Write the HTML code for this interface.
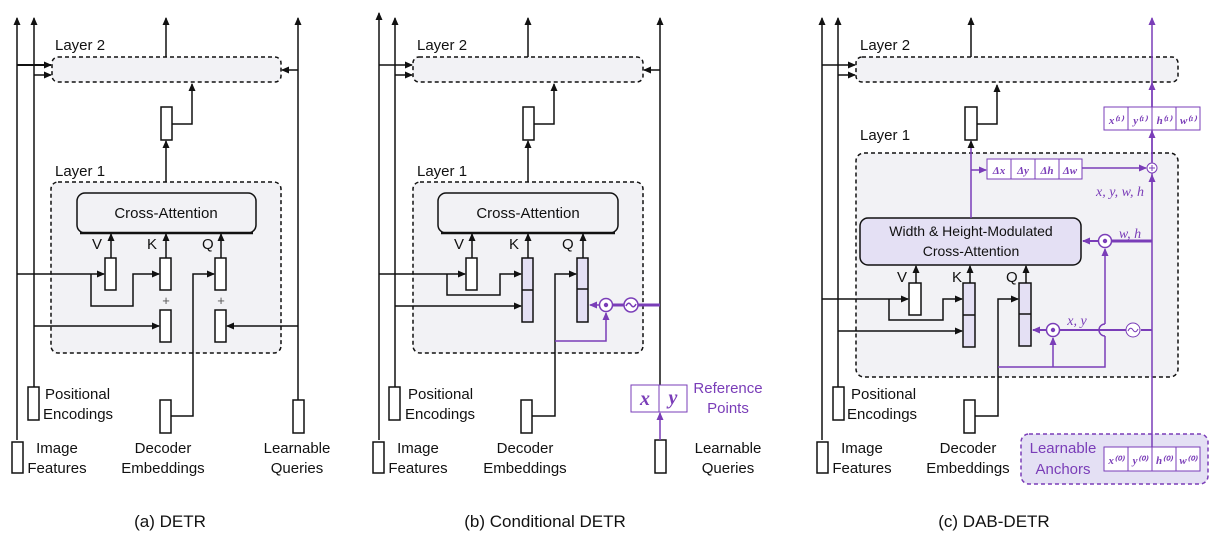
<!DOCTYPE html>
<html><head><meta charset="utf-8"><style>
html,body{margin:0;padding:0;background:#fff}
svg{display:block}
text{font-family:"Liberation Sans",sans-serif;font-size:15px;fill:#111}
.c{text-anchor:middle}
.p{fill:#7a3db8}
.m{font-family:"Liberation Serif",serif;font-style:italic;font-weight:bold;fill:#7a3db8}
.mi{font-family:"Liberation Serif",serif;font-style:italic;fill:#7a3db8}
</style></head><body>
<svg width="1226" height="534" viewBox="0 0 1226 534" xmlns="http://www.w3.org/2000/svg">
<defs>
<marker id="a" markerWidth="8" markerHeight="8" refX="7" refY="4" orient="auto" markerUnits="userSpaceOnUse"><path d="M0,0.5 L8,4 L0,7.5z" fill="#111"/></marker>
<marker id="ap" markerWidth="8" markerHeight="8" refX="7" refY="4" orient="auto" markerUnits="userSpaceOnUse"><path d="M0,0.5 L8,4 L0,7.5z" fill="#7a3db8"/></marker>
</defs>
<g fill="none" stroke="#111" stroke-width="1.5">
<!-- ===== Panel A ===== -->
<rect x="52" y="57" width="229" height="25" rx="6" fill="#f2f2f5" stroke-dasharray="4,3"/>
<rect x="51" y="182" width="230" height="171" rx="7" fill="#f2f2f5" stroke-dasharray="4,3"/>
<rect x="77" y="193" width="179" height="40" rx="8" fill="#f2f2f5"/>
<line x1="80" y1="233" x2="253" y2="233" stroke-width="2.5"/>
<line x1="17" y1="440" x2="17" y2="18" marker-end="url(#a)"/>
<line x1="34" y1="387" x2="34" y2="18" marker-end="url(#a)"/>
<line x1="17" y1="65" x2="51" y2="65" stroke-width="2" marker-end="url(#a)"/>
<line x1="34" y1="75" x2="51" y2="75" marker-end="url(#a)"/>
<line x1="166" y1="57" x2="166" y2="18" marker-end="url(#a)"/>
<line x1="298" y1="400" x2="298" y2="18" marker-end="url(#a)"/>
<line x1="298" y1="70" x2="282" y2="70" marker-end="url(#a)"/>
<rect x="161" y="107" width="11" height="33" fill="#fff"/>
<polyline points="172,124 192,124 192,84" marker-end="url(#a)"/>
<line x1="166" y1="182" x2="166" y2="141" marker-end="url(#a)"/>
<line x1="111" y1="258" x2="111" y2="234" marker-end="url(#a)"/>
<line x1="166" y1="258" x2="166" y2="234" marker-end="url(#a)"/>
<line x1="221" y1="258" x2="221" y2="234" marker-end="url(#a)"/>
<rect x="105" y="258" width="11" height="32" fill="#fff"/>
<rect x="160" y="258" width="11" height="32" fill="#fff"/>
<rect x="215" y="258" width="11" height="32" fill="#fff"/>
<rect x="160" y="310" width="11" height="32" fill="#fff"/>
<rect x="215" y="310" width="11" height="32" fill="#fff"/>
<line x1="17" y1="274" x2="104" y2="274" marker-end="url(#a)"/>
<polyline points="91,274 91,306 133,306 133,274 159,274" marker-end="url(#a)"/>
<line x1="34" y1="326" x2="159" y2="326" marker-end="url(#a)"/>
<line x1="298" y1="326" x2="227" y2="326" marker-end="url(#a)"/>
<polyline points="171,416 193,416 193,274 214,274" marker-end="url(#a)"/>
<rect x="12" y="442" width="11" height="31" fill="#fff"/>
<rect x="28" y="387" width="11" height="33" fill="#fff"/>
<rect x="160" y="400" width="11" height="33" fill="#fff"/>
<rect x="293" y="400" width="11" height="33" fill="#fff"/>

<!-- ===== Panel B ===== -->
<rect x="413" y="57" width="230" height="25" rx="6" fill="#f2f2f5" stroke-dasharray="4,3"/>
<rect x="413" y="182" width="230" height="171" rx="7" fill="#f2f2f5" stroke-dasharray="4,3"/>
<rect x="438" y="193" width="180" height="40" rx="8" fill="#f2f2f5"/>
<line x1="441" y1="233" x2="615" y2="233" stroke-width="2.5"/>
<line x1="379" y1="440" x2="379" y2="13" marker-end="url(#a)"/>
<line x1="395" y1="387" x2="395" y2="18" marker-end="url(#a)"/>
<line x1="379" y1="65" x2="412" y2="65" marker-end="url(#a)"/>
<line x1="395" y1="75" x2="412" y2="75" marker-end="url(#a)"/>
<line x1="528" y1="57" x2="528" y2="18" marker-end="url(#a)"/>
<line x1="660" y1="385" x2="660" y2="18" marker-end="url(#a)"/>
<line x1="660" y1="70" x2="644" y2="70" marker-end="url(#a)"/>
<rect x="523" y="107" width="11" height="33" fill="#fff"/>
<polyline points="534,124 554,124 554,84" marker-end="url(#a)"/>
<line x1="528" y1="182" x2="528" y2="141" marker-end="url(#a)"/>
<line x1="472" y1="258" x2="472" y2="234" marker-end="url(#a)"/>
<line x1="528" y1="258" x2="528" y2="234" marker-end="url(#a)"/>
<line x1="583" y1="258" x2="583" y2="234" marker-end="url(#a)"/>
<rect x="466" y="258" width="11" height="32" fill="#fff"/>
<rect x="522" y="258" width="11" height="64" fill="#e4e0f4"/>
<line x1="522" y1="290" x2="533" y2="290"/>
<rect x="577" y="258" width="11" height="64" fill="#e4e0f4"/>
<line x1="577" y1="289" x2="588" y2="289"/>
<line x1="379" y1="274" x2="465" y2="274" marker-end="url(#a)"/>
<polyline points="447,274 447,295 500,295 500,274 521,274" marker-end="url(#a)"/>
<line x1="395" y1="306" x2="521" y2="306" marker-end="url(#a)"/>
<polyline points="532,416 555,416 555,274 576,274" marker-end="url(#a)"/>
<rect x="373" y="442" width="11" height="31" fill="#fff"/>
<rect x="389" y="387" width="11" height="33" fill="#fff"/>
<rect x="521" y="400" width="11" height="33" fill="#fff"/>
<rect x="655" y="440" width="11" height="33" fill="#fff"/>

<!-- ===== Panel C ===== -->
<rect x="856" y="57" width="322" height="25" rx="6" fill="#f2f2f5" stroke-dasharray="4,3"/>
<rect x="856" y="153" width="322" height="224" rx="8" fill="#f2f2f5" stroke-dasharray="4,3"/>
<line x1="822" y1="440" x2="822" y2="18" marker-end="url(#a)"/>
<line x1="838" y1="387" x2="838" y2="18" marker-end="url(#a)"/>
<line x1="822" y1="65" x2="855" y2="65" marker-end="url(#a)"/>
<line x1="838" y1="75" x2="855" y2="75" marker-end="url(#a)"/>
<line x1="971" y1="57" x2="971" y2="18" marker-end="url(#a)"/>
<rect x="965" y="107" width="12" height="33" fill="#fff"/>
<polyline points="977,124 997,124 997,85" marker-end="url(#a)"/>
<rect x="860" y="218" width="221" height="47" rx="8" fill="#e4e0f4"/>
<line x1="916" y1="283" x2="916" y2="266" marker-end="url(#a)"/>
<line x1="970" y1="283" x2="970" y2="266" marker-end="url(#a)"/>
<line x1="1026" y1="283" x2="1026" y2="266" marker-end="url(#a)"/>
<rect x="909" y="283" width="12" height="32" fill="#fff"/>
<rect x="963" y="283" width="12" height="64" fill="#e4e0f4"/>
<line x1="963" y1="315" x2="975" y2="315"/>
<rect x="1019" y="283" width="12" height="63" fill="#e4e0f4"/>
<line x1="1019" y1="314" x2="1031" y2="314"/>
<line x1="822" y1="299" x2="908" y2="299" marker-end="url(#a)"/>
<polyline points="889,299 889,320 943,320 943,299 962,299" marker-end="url(#a)"/>
<line x1="838" y1="331" x2="962" y2="331" marker-end="url(#a)"/>
<polyline points="975,416 998,416 998,299 1018,299" marker-end="url(#a)"/>
<rect x="817" y="442" width="11" height="31" fill="#fff"/>
<rect x="833" y="387" width="11" height="33" fill="#fff"/>
<rect x="964" y="400" width="11" height="33" fill="#fff"/>
</g>

<!-- purple elements -->
<g fill="none" stroke="#7a3db8" stroke-width="1.5">
<!-- panel b -->
<polyline points="555,341 606,341 606,313" marker-end="url(#ap)"/>
<line x1="660" y1="305" x2="638" y2="305" stroke-width="3"/>
<line x1="624" y1="305" x2="613" y2="305" stroke-width="3"/>
<line x1="600" y1="305" x2="590" y2="305" marker-end="url(#ap)"/>
<circle cx="631" cy="305" r="7" fill="#fff"/>
<path d="M626,306 q2.5,-5 5,-1 q2.5,4 5,-1"/>
<circle cx="606" cy="305" r="6.5" fill="#fff"/>
<rect x="631" y="385" width="56" height="27" fill="#fff" stroke-width="1"/>
<line x1="659" y1="385" x2="659" y2="412" stroke-width="1"/>
<line x1="660" y1="440" x2="660" y2="413" marker-end="url(#ap)"/>
<!-- panel c -->
<rect x="1021" y="434" width="187" height="50" rx="8" fill="#e4e0f4" stroke-dasharray="4,3"/>
<line x1="1152" y1="447" x2="1152" y2="18" marker-end="url(#ap)"/>
<rect x="1104" y="107" width="96" height="23" fill="#fff" stroke-width="1"/>
<line x1="1128" y1="107" x2="1128" y2="130" stroke-width="1"/><line x1="1152" y1="107" x2="1152" y2="130" stroke-width="1"/><line x1="1176" y1="107" x2="1176" y2="130" stroke-width="1"/>
<rect x="1104" y="447" width="96" height="24" fill="#fff" stroke-width="1"/>
<line x1="1128" y1="447" x2="1128" y2="471" stroke-width="1"/><line x1="1152" y1="447" x2="1152" y2="471" stroke-width="1"/><line x1="1176" y1="447" x2="1176" y2="471" stroke-width="1"/>
<line x1="1152" y1="107" x2="1152" y2="83" marker-end="url(#ap)"/>
<line x1="1152" y1="162" x2="1152" y2="131" marker-end="url(#ap)"/>
<line x1="1152" y1="200" x2="1152" y2="175" marker-end="url(#ap)"/>
<line x1="971" y1="218" x2="971" y2="141" marker-end="url(#a)"/>
<line x1="971" y1="170" x2="986" y2="170" marker-end="url(#ap)"/>
<rect x="987" y="159" width="95" height="20" fill="#fff" stroke-width="1"/>
<line x1="1011" y1="159" x2="1011" y2="179" stroke-width="1"/><line x1="1035" y1="159" x2="1035" y2="179" stroke-width="1"/><line x1="1059" y1="159" x2="1059" y2="179" stroke-width="1"/>
<line x1="1082" y1="168" x2="1146" y2="168" marker-end="url(#ap)"/>
<circle cx="1152" cy="168" r="5" fill="#fff" stroke-width="1"/>
<path d="M1149,168h6M1152,165v6" stroke-width="1"/>
<line x1="1152" y1="241" x2="1112" y2="241" stroke-width="3"/>
<line x1="1098" y1="241" x2="1083" y2="241" stroke-width="2" marker-end="url(#ap)"/>
<circle cx="1105" cy="241" r="6.5" fill="#fff"/>
<polyline points="998,367 1105,367 1105,336"/>
<path d="M1105,336 a6,6 0 0 1 0,-12"/>
<line x1="1105" y1="324" x2="1105" y2="249" marker-end="url(#ap)"/>
<line x1="1053" y1="367" x2="1053" y2="338" marker-end="url(#ap)"/>
<line x1="1152" y1="330" x2="1141" y2="330" stroke-width="2"/>
<line x1="1126" y1="330" x2="1060" y2="330" stroke-width="2"/>
<line x1="1046" y1="330" x2="1033" y2="330" stroke-width="2" marker-end="url(#ap)"/>
<circle cx="1133" cy="330" r="7" fill="#fff" stroke-width="1"/>
<path d="M1128,331 q2.5,-5 5,-1 q2.5,4 5,-1" stroke-width="1"/>
<circle cx="1053" cy="330" r="6.5" fill="#fff"/>
</g>
<g fill="#7a3db8"><circle cx="606" cy="305" r="2.2"/><circle cx="1105" cy="241" r="2.2"/><circle cx="1053" cy="330" r="2.2"/></g>

<!-- text -->
<text x="55" y="50">Layer 2</text><text x="55" y="176">Layer 1</text>
<text x="166" y="218" class="c">Cross-Attention</text>
<text x="92" y="249">V</text><text x="147" y="249">K</text><text x="202" y="249">Q</text>
<text x="166" y="305" class="c" style="font-size:13px;fill:#555">+</text><text x="221" y="305" class="c" style="font-size:13px;fill:#555">+</text>
<text x="45" y="399">Positional</text><text x="43" y="419">Encodings</text>
<text x="57" y="453" class="c">Image</text><text x="57" y="473" class="c">Features</text>
<text x="163" y="453" class="c">Decoder</text><text x="163" y="473" class="c">Embeddings</text>
<text x="297" y="453" class="c">Learnable</text><text x="297" y="473" class="c">Queries</text>
<text x="170" y="527" class="c" style="font-size:17px">(a) DETR</text>

<text x="417" y="50">Layer 2</text><text x="417" y="176">Layer 1</text>
<text x="528" y="218" class="c">Cross-Attention</text>
<text x="454" y="249">V</text><text x="509" y="249">K</text><text x="562" y="249">Q</text>
<text x="408" y="399">Positional</text><text x="405" y="419">Encodings</text>
<text x="418" y="453" class="c">Image</text><text x="418" y="473" class="c">Features</text>
<text x="525" y="453" class="c">Decoder</text><text x="525" y="473" class="c">Embeddings</text>
<text x="728" y="453" class="c">Learnable</text><text x="728" y="473" class="c">Queries</text>
<text x="728" y="393" class="c p">Reference</text><text x="728" y="413" class="c p">Points</text>
<text x="645" y="405" class="c m" style="font-size:20px">x</text><text x="673" y="404" class="c m" style="font-size:20px">y</text>
<text x="545" y="527" class="c" style="font-size:17px">(b) Conditional DETR</text>

<text x="860" y="50">Layer 2</text><text x="860" y="140">Layer 1</text>
<text x="971" y="236" class="c" style="font-size:14px">Width &amp; Height-Modulated</text>
<text x="971" y="256" class="c" style="font-size:14px">Cross-Attention</text>
<text x="897" y="282">V</text><text x="952" y="282">K</text><text x="1006" y="282">Q</text>
<text x="851" y="399">Positional</text><text x="847" y="419">Encodings</text>
<text x="862" y="453" class="c">Image</text><text x="862" y="473" class="c">Features</text>
<text x="968" y="453" class="c">Decoder</text><text x="968" y="473" class="c">Embeddings</text>
<text x="1063" y="453" class="c p">Learnable</text><text x="1063" y="474" class="c p">Anchors</text>
<text x="1120" y="196" class="c mi" style="font-size:14px">x, y, w, h</text>
<text x="1130" y="238" class="c mi" style="font-size:14px">w, h</text>
<text x="1077" y="325" class="c mi" style="font-size:14px">x, y</text>
<g class="m" style="font-size:11px">
<text x="999" y="174" class="c m" style="font-size:11px">Δx</text><text x="1023" y="174" class="c m" style="font-size:11px">Δy</text><text x="1047" y="174" class="c m" style="font-size:11px">Δh</text><text x="1070" y="174" class="c m" style="font-size:11px">Δw</text>
<text x="1116" y="124" class="c m" style="font-size:11px">x⁽¹⁾</text><text x="1140" y="124" class="c m" style="font-size:11px">y⁽¹⁾</text><text x="1164" y="124" class="c m" style="font-size:11px">h⁽¹⁾</text><text x="1188" y="124" class="c m" style="font-size:11px">w⁽¹⁾</text>
<text x="1116" y="464" class="c m" style="font-size:11px">x⁽⁰⁾</text><text x="1140" y="464" class="c m" style="font-size:11px">y⁽⁰⁾</text><text x="1164" y="464" class="c m" style="font-size:11px">h⁽⁰⁾</text><text x="1188" y="464" class="c m" style="font-size:11px">w⁽⁰⁾</text>
</g>
<text x="994" y="527" class="c" style="font-size:17px">(c) DAB-DETR</text>
</svg>
</body></html>
